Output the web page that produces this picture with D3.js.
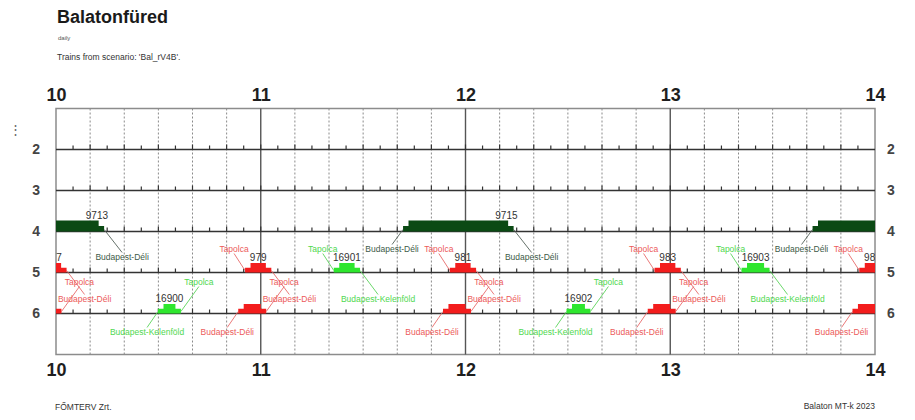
<!DOCTYPE html>
<html>
<head>
<meta charset="utf-8">
<style>
body { margin: 0; background: #fff; }
svg text { font-family: "Liberation Sans", Arial, sans-serif; }
</style>
</head>
<body>
<div id="vis"></div>
<script src="https://cdn.jsdelivr.net/npm/d3@7"></script>
<script>
var hours = [10, 11, 12, 13, 14];
var tracks = [2, 3, 4, 5, 6];

// trains, times in minutes after midnight
var trainNo    = ["9713", "9715", "9717", "977", "979", "981", "983", "985", "", "", "", "", "", "16900", "16901", "16902", "16903"];
var trainTrack = [4, 4, 4, 5, 5, 5, 5, 5, 6, 6, 6, 6, 6, 6, 5, 6, 5];
var trainArr   = [583.3, 703.3, 823.3, 597, 657, 717, 777, 837, 595, 655, 715, 775, 835, 631.5, 683, 751.2, 802.5];
var trainDep   = [612.5, 732.5, 852.5, 601.5, 661.5, 721.5, 781.5, 841.5, 600, 660, 720, 780, 840, 635, 687.5, 755, 807.5];
var trainFrom  = ["Budapest-Déli", "Budapest-Déli", "Budapest-Déli",
                  "Tapolca", "Tapolca", "Tapolca", "Tapolca", "Tapolca",
                  "Budapest-Déli", "Budapest-Déli", "Budapest-Déli", "Budapest-Déli", "Budapest-Déli",
                  "Budapest-Kelenföld", "Tapolca", "Budapest-Kelenföld", "Tapolca"];
var trainTo    = ["Budapest-Déli", "Budapest-Déli", "Budapest-Déli",
                  "Budapest-Déli", "Budapest-Déli", "Budapest-Déli", "Budapest-Déli", "Budapest-Déli",
                  "Tapolca", "Tapolca", "Tapolca", "Tapolca", "Tapolca",
                  "Tapolca", "Budapest-Kelenföld", "Tapolca", "Budapest-Kelenföld"];
var trainType  = ["fast", "fast", "fast",
                  "local", "local", "local", "local", "local",
                  "local", "local", "local", "local", "local",
                  "extra", "extra", "extra", "extra"];

var trains = trainNo.map(function(d, i) {
  return {no: d, track: trainTrack[i], arr: trainArr[i], dep: trainDep[i],
          from: trainFrom[i], to: trainTo[i], type: trainType[i]};
});

var width = 915, height = 420;
var plotL = 56, plotR = 875, plotT = 108.5, plotB = 354.5;

var svg = d3.select("div#vis")
  .append("svg")
  .attr("width", width)
  .attr("height", height);

var x = d3.scaleLinear()
  .domain([hours[0] * 60, hours[hours.length - 1] * 60])
  .range([plotL, plotR]);

var y = d3.scaleLinear()
  .domain([1, 7])
  .range([plotT, plotB]);

var fill = d3.scaleOrdinal().domain(["fast", "local", "extra"]).range(["#0b4a14", "#f31d1d", "#2ee62e"]);
var ink = d3.scaleOrdinal().domain(["fast", "local", "extra"]).range(["#3d5a48", "#ec5a5a", "#4fd84f"]);
var lineInk = d3.scaleOrdinal().domain(["fast", "local", "extra"]).range(["#55625a", "#e86a6a", "#5ad45a"]);

// header
svg.append("text").attr("x", 57).attr("y", 23)
  .attr("font-size", 18).attr("font-weight", "bold").attr("fill", "#1a1a1a")
  .text("Balatonfüred");
svg.append("text").attr("x", 58).attr("y", 40)
  .attr("font-size", 6).attr("fill", "#555")
  .text("daily");
svg.append("text").attr("x", 57).attr("y", 60)
  .attr("font-size", 8.5).attr("fill", "#333")
  .text("Trains from scenario: 'Bal_rV4B'.");

// footer
svg.append("text").attr("x", 55).attr("y", 410)
  .attr("font-size", 8.5).attr("fill", "#333")
  .text("FŐMTERV Zrt.");
svg.append("text").attr("x", 875).attr("y", 409)
  .attr("font-size", 8.5).attr("fill", "#333").attr("text-anchor", "end")
  .text("Balaton MT-k 2023");

svg.append("defs").append("clipPath").attr("id", "plotclip")
  .append("rect")
  .attr("x", plotL).attr("y", plotT - 30)
  .attr("width", plotR - plotL).attr("height", plotB - plotT + 30);

// grid
var tenMin = d3.range(x.domain()[0], x.domain()[1] + 1, 10).filter(function(d) { return d % 60 !== 0; });
svg.append("g").selectAll("line")
  .data(tenMin)
  .enter().append("line")
  .attr("x1", function(d) { return x(d); })
  .attr("x2", function(d) { return x(d); })
  .attr("y1", plotT).attr("y2", plotB)
  .attr("stroke", "#8a8a8a")
  .attr("stroke-dasharray", "2,2");

svg.append("rect")
  .attr("x", plotL).attr("y", plotT)
  .attr("width", plotR - plotL).attr("height", plotB - plotT)
  .attr("fill", "none")
  .attr("stroke", "#8c8c8c")
  .attr("stroke-width", 1.5);

svg.append("g").selectAll("line")
  .data(hours.slice(1, -1))
  .enter().append("line")
  .attr("x1", function(d) { return x(d * 60); })
  .attr("x2", function(d) { return x(d * 60); })
  .attr("y1", plotT).attr("y2", plotB)
  .attr("stroke", "#555")
  .attr("stroke-width", 1.4);

// track lines with 5 minute ticks
var fiveMin = d3.range(x.domain()[0] + 5, x.domain()[1], 5);
var trackG = svg.append("g").selectAll("g")
  .data(tracks)
  .enter().append("g");

trackG.append("line")
  .attr("x1", plotL).attr("x2", plotR)
  .attr("y1", function(d) { return y(d); })
  .attr("y2", function(d) { return y(d); })
  .attr("stroke", "#333")
  .attr("stroke-width", 1.6);

trackG.selectAll(".tick5")
  .data(function(d) { return fiveMin.map(function(m) { return {t: d, m: m}; }); })
  .enter().append("line")
  .attr("class", "tick5")
  .attr("x1", function(d) { return x(d.m); })
  .attr("x2", function(d) { return x(d.m); })
  .attr("y1", function(d) { return y(d.t); })
  .attr("y2", function(d) { return y(d.t) - (d.m % 10 === 0 ? 5 : 4); })
  .attr("stroke", "#333")
  .attr("stroke-width", 1.2);

// axes
function styleAxis(g, size, color) {
  g.select(".domain").remove();
  g.selectAll("text")
    .attr("font-size", size)
    .attr("font-weight", "bold")
    .attr("fill", color)
    .attr("font-family", "'Liberation Sans', Arial, sans-serif");
}

svg.append("g")
  .attr("transform", "translate(0,101)")
  .call(d3.axisTop(x).tickValues(hours.map(function(h) { return h * 60; }))
    .tickFormat(function(d) { return d / 60; }).tickSize(0).tickPadding(0))
  .call(styleAxis, 18, "#1e1e1e");

svg.append("g")
  .attr("transform", "translate(0,363)")
  .call(d3.axisBottom(x).tickValues(hours.map(function(h) { return h * 60; }))
    .tickFormat(function(d) { return d / 60; }).tickSize(0).tickPadding(0))
  .call(styleAxis, 18, "#1e1e1e");

svg.append("g")
  .attr("transform", "translate(" + plotL + ",0)")
  .call(d3.axisLeft(y).tickValues(tracks).tickFormat(d3.format("d")).tickSize(0).tickPadding(16))
  .call(styleAxis, 14, "#444");

svg.append("g")
  .attr("transform", "translate(" + plotR + ",0)")
  .call(d3.axisRight(y).tickValues(tracks).tickFormat(d3.format("d")).tickSize(0).tickPadding(12))
  .call(styleAxis, 14, "#444");

svg.append("text").attr("x", 15).attr("y", y(1.5)).attr("dy", "0.35em")
  .attr("text-anchor", "middle").attr("font-size", 13).attr("fill", "#666")
  .attr("font-family", "DejaVu Sans").text("⋮");
svg.append("text").attr("x", 917).attr("y", y(1.5)).attr("dy", "0.35em")
  .attr("text-anchor", "middle").attr("font-size", 13).attr("fill", "#666")
  .attr("font-family", "DejaVu Sans").text("⋮");

// trains
var approach = 1.6;
var fromLane = {4: 18, 5: -23, 6: 19};
var toLane = {4: 26, 5: 27, 6: -31};

function upperH(d) { return d.type === "fast" ? 11 : 9.5; }

var line = d3.line();

var plot = svg.append("g").attr("clip-path", "url(#plotclip)");

var tg = plot.selectAll(".train")
  .data(trains)
  .enter().append("g")
  .attr("class", "train");

// leader lines
tg.append("line")
  .attr("x1", function(d) { return x(d.arr - approach); })
  .attr("y1", function(d) { return y(d.track) - 2; })
  .attr("x2", function(d) { return x(d.arr - approach) - 11; })
  .attr("y2", function(d) { var o = fromLane[d.track]; return y(d.track) + o + (o > 0 ? -5 : 4); })
  .attr("stroke", function(d) { return lineInk(d.type); })
  .attr("stroke-width", 0.9);

tg.append("line")
  .attr("x1", function(d) { return x(d.dep + approach); })
  .attr("y1", function(d) { return y(d.track) - 2; })
  .attr("x2", function(d) { return x(d.dep + approach) + 18; })
  .attr("y2", function(d) { var o = toLane[d.track]; return y(d.track) + o + (o > 0 ? -5 : 4); })
  .attr("stroke", function(d) { return lineInk(d.type); })
  .attr("stroke-width", 0.9);

// occupation blocks
tg.append("path")
  .attr("d", function(d) {
    var y0 = y(d.track), h = upperH(d), hl = h / 2;
    return line([
      [x(d.arr - approach), y0], [x(d.arr - approach), y0 - hl],
      [x(d.arr), y0 - hl], [x(d.arr), y0 - h],
      [x(d.dep), y0 - h], [x(d.dep), y0 - hl],
      [x(d.dep + approach), y0 - hl], [x(d.dep + approach), y0]
    ]) + "Z";
  })
  .attr("fill", function(d) { return fill(d.type); });

// station labels
tg.append("text")
  .attr("x", function(d) { return x(d.arr - approach) - 11; })
  .attr("y", function(d) { return y(d.track) + fromLane[d.track]; })
  .attr("dy", "0.35em")
  .attr("text-anchor", "middle")
  .attr("font-size", 8.5)
  .attr("fill", function(d) { return ink(d.type); })
  .text(function(d) { return d.from; });

tg.append("text")
  .attr("x", function(d) { return x(d.dep + approach) + 18; })
  .attr("y", function(d) { return y(d.track) + toLane[d.track]; })
  .attr("dy", "0.35em")
  .attr("text-anchor", "middle")
  .attr("font-size", 8.5)
  .attr("fill", function(d) { return ink(d.type); })
  .text(function(d) { return d.to; });

// train numbers
tg.append("text")
  .attr("x", function(d) {
    return d.dep - d.arr > 15 ? x(d.dep - 0.5) : x((d.arr + d.dep) / 2);
  })
  .attr("y", function(d) { return y(d.track) - upperH(d) - 2; })
  .attr("text-anchor", "middle")
  .attr("font-size", 10)
  .attr("fill", "#333")
  .text(function(d) { return d.no; });
</script>
</body>
</html>
